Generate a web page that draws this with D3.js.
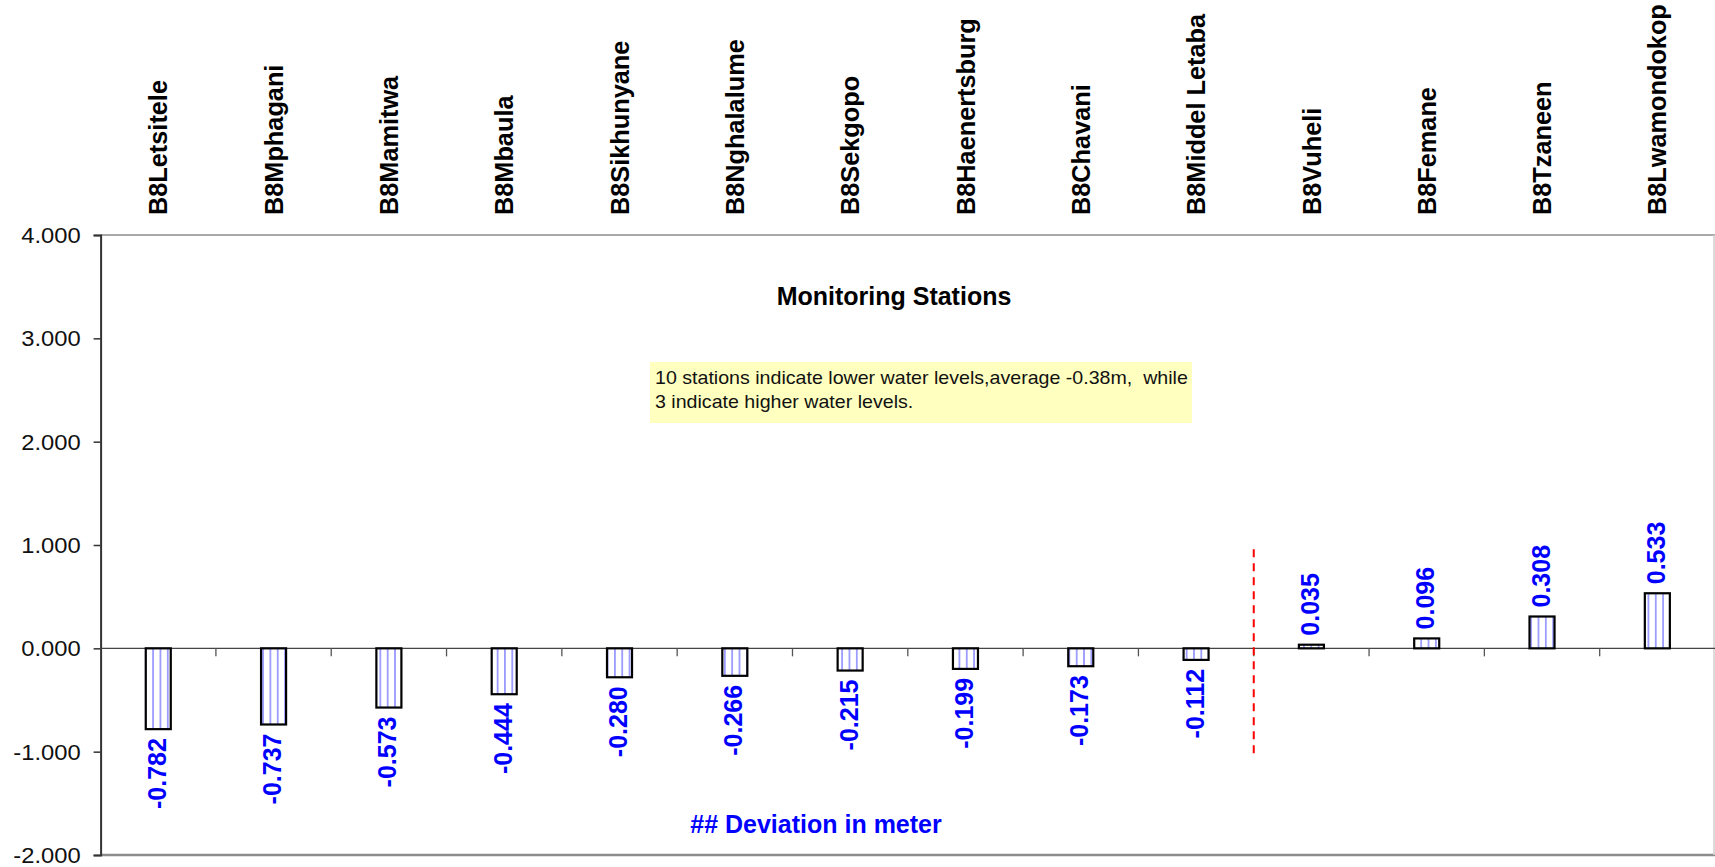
<!DOCTYPE html>
<html>
<head>
<meta charset="utf-8">
<script src="https://cdn.jsdelivr.net/npm/d3@7"></script>
<style>
  html, body { margin: 0; padding: 0; background: #fff; }
  svg { display: block; font-family: "Liberation Sans", Arial, Helvetica, sans-serif; }
</style>
</head>
<body>
<svg id="chart" width="1715" height="867"></svg>
<script>
// ---- data ----
const stations = ["B8Letsitele", "B8Mphagani", "B8Mamitwa", "B8Mbaula", "B8Sikhunyane",
  "B8Nghalalume", "B8Sekgopo", "B8Haenertsburg", "B8Chavani", "B8Middel Letaba",
  "B8Vuheli", "B8Femane", "B8Tzaneen", "B8Lwamondokop"];
const deviations = [-0.782, -0.737, -0.573, -0.444, -0.280, -0.266, -0.215, -0.199,
  -0.173, -0.112, 0.035, 0.096, 0.308, 0.533];
const yTicks = [-2, -1, 0, 1, 2, 3, 4];
const yDomain = [-2, 4];
const dividerBefore = "B8Vuheli";
const dividerExtent = [0.96, -1.03];
const titleText = "Monitoring Stations";
const noteLines = ["10 stations indicate lower water levels,average -0.38m,  while",
  "3 indicate higher water levels."];
const axisTitle = "## Deviation in meter";

(function () {
// ---- layout ----
const plotLeft = 100.6, plotRight = 1715, plotTop = 235, plotBottom = 855;
const svg = d3.select("#chart");
const fmt = d3.formatLocale({decimal: ".", thousands: ",", grouping: [3], currency: ["", ""], minus: "-"}).format(".3f");

const x = d3.scaleBand().domain(stations).range([plotLeft, plotRight])
  .paddingInner(0.783).paddingOuter(0.3915);
const y = d3.scaleLinear().domain(yDomain).range([plotBottom, plotTop]);
const step = x.step();

// pattern
const defs = svg.append("defs");
const pat = defs.append("pattern").attr("id", "vstripe").attr("patternUnits", "userSpaceOnUse")
  .attr("x", 5.6).attr("y", 0).attr("width", 7.33).attr("height", 10);
pat.append("rect").attr("width", 7.33).attr("height", 10).attr("fill", "#fff");
pat.append("rect").attr("x", 0).attr("width", 1.8).attr("height", 10).attr("fill", "#9c9cff");

// plot border (top, bottom, right)
svg.append("line").attr("x1", plotLeft).attr("x2", plotRight).attr("y1", plotTop).attr("y2", plotTop)
  .attr("stroke", "#8c8c8c").attr("stroke-width", 1.5);
svg.append("line").attr("x1", plotLeft).attr("x2", plotRight).attr("y1", plotBottom).attr("y2", plotBottom)
  .attr("stroke", "#8c8c8c").attr("stroke-width", 2.5);
svg.append("line").attr("x1", plotRight - 1).attr("x2", plotRight - 1).attr("y1", plotTop).attr("y2", plotBottom)
  .attr("stroke", "#cfcfcf").attr("stroke-width", 1.5);

// y axis
const yAxis = d3.axisLeft(y).tickValues(yTicks).tickFormat(fmt).tickSize(7).tickPadding(13);
const gy = svg.append("g").attr("transform", `translate(${plotLeft},0)`).call(yAxis);
gy.select(".domain").attr("stroke", "#333").attr("stroke-width", 2);
gy.selectAll(".tick line").attr("stroke", "#333").attr("stroke-width", 1.5);
gy.selectAll(".tick text").attr("font-size", 22).attr("fill", "#111")
  .attr("font-family", "'Liberation Sans', Arial, sans-serif")
  .attr("transform", "scale(1.08,1)").attr("dy", "0.34em")
  .attr("x", -20 / 1.08);

// x axis at zero
svg.append("line").attr("x1", plotLeft).attr("x2", plotRight).attr("y1", y(0)).attr("y2", y(0))
  .attr("stroke", "#444").attr("stroke-width", 1.3);
svg.append("g").selectAll("line").data(stations.slice(1)).join("line")
  .attr("x1", d => x(d) - (step - x.bandwidth()) / 2)
  .attr("x2", d => x(d) - (step - x.bandwidth()) / 2)
  .attr("y1", y(0)).attr("y2", y(0) + 8)
  .attr("stroke", "#555").attr("stroke-width", 1.3);

// category labels at top
svg.append("g").selectAll("text").data(stations).join("text")
  .attr("transform", d => `translate(${x(d) + x.bandwidth() / 2},215) rotate(-90)`)
  .attr("dy", "0.36em")
  .attr("text-anchor", "start")
  .attr("font-size", 25.3).attr("font-weight", "bold").attr("fill", "#000")
  .text(d => d);

// bars
const data = stations.map((s, i) => ({s, v: deviations[i]}));
svg.append("g").selectAll("rect").data(data).join("rect")
  .attr("x", d => x(d.s))
  .attr("width", x.bandwidth())
  .attr("y", d => y(Math.max(0, d.v)))
  .attr("height", d => Math.abs(y(d.v) - y(0)))
  .attr("fill", "url(#vstripe)")
  .attr("stroke", "#000").attr("stroke-width", 2.2);

// value labels
svg.append("g").selectAll("text").data(data).join("text")
  .attr("transform", d => {
    const cx = x(d.s) + x.bandwidth() / 2;
    const yy = d.v < 0 ? y(d.v) + 9 : y(d.v) - 9;
    return `translate(${cx},${yy}) rotate(-90)`;
  })
  .attr("text-anchor", d => d.v < 0 ? "end" : "start")
  .attr("dy", "0.3em")
  .attr("font-size", 25).attr("font-weight", "bold").attr("fill", "#0000ff")
  .text(d => fmt(d.v));

// divider
const dx = x(dividerBefore) - (step - x.bandwidth()) / 2;
svg.append("line").attr("x1", dx).attr("x2", dx)
  .attr("y1", y(dividerExtent[0])).attr("y2", y(dividerExtent[1]))
  .attr("stroke", "#ff0000").attr("stroke-width", 2).attr("stroke-dasharray", "8,6");

// title
svg.append("text").attr("x", 894).attr("y", 305).attr("text-anchor", "middle")
  .attr("font-size", 25).attr("font-weight", "bold").attr("fill", "#000").text(titleText);

// note box
svg.append("rect").attr("x", 650).attr("y", 362).attr("width", 542).attr("height", 61)
  .attr("fill", "#ffffc0");
svg.append("g").attr("transform", "translate(655,0) scale(1.09,1)")
  .selectAll("text").data(noteLines).join("text")
  .attr("x", 0).attr("y", (d, i) => 384 + i * 24.3)
  .style("white-space", "pre").attr("xml:space", "preserve")
  .attr("font-size", 18).attr("fill", "#111").text(d => d);

// axis title
svg.append("text").attr("x", 816).attr("y", 833).attr("text-anchor", "middle")
  .attr("font-size", 25).attr("font-weight", "bold").attr("fill", "#0000ff").text(axisTitle);
})();
</script>
</body>
</html>
